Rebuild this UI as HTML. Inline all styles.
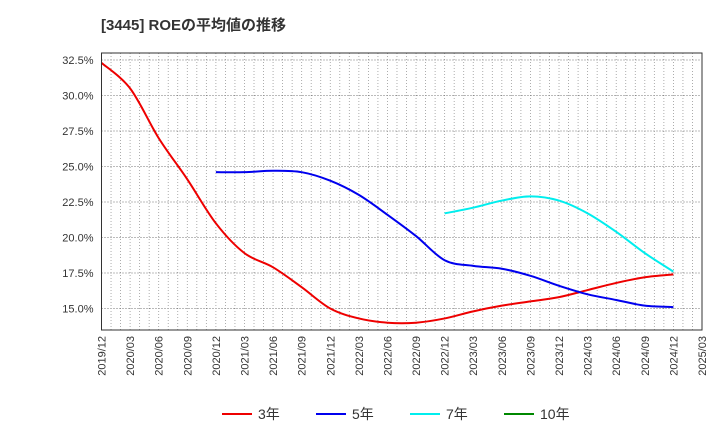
<!DOCTYPE html>
<html><head><meta charset="utf-8"><style>
body{margin:0;background:#fff;font-family:"Liberation Sans","Noto Sans CJK JP",sans-serif}
</style></head><body>
<svg id="c" width="720" height="440" xmlns="http://www.w3.org/2000/svg">
<text x="101" y="30" font-size="15" font-weight="bold" fill="#333">[3445]  ROEの平均値の推移</text>
<g id="grid"></g><g id="lines"></g><g id="axes"></g><g id="legend"></g>
</svg>
<script>
const xLabels=["2019/12","2020/03","2020/06","2020/09","2020/12","2021/03","2021/06","2021/09","2021/12","2022/03","2022/06","2022/09","2022/12","2023/03","2023/06","2023/09","2023/12","2024/03","2024/06","2024/09","2024/12","2025/03"];
const yTicks=[15.0,17.5,20.0,22.5,25.0,27.5,30.0,32.5];
const s3=[32.3,30.5,27.0,24.1,21.0,18.9,17.9,16.5,15.0,14.3,14.0,14.0,14.3,14.8,15.2,15.5,15.8,16.3,16.8,17.2,17.4];
const s3off=0;
const s5=[24.6,24.6,24.7,24.6,24.0,23.0,21.6,20.1,18.4,18.0,17.8,17.3,16.6,16.0,15.6,15.2,15.1];
const s5off=4;
const s7=[21.7,22.1,22.6,22.9,22.6,21.7,20.4,18.9,17.6];
const s7off=12;
const s10=[];
const L=101.5,R=702,T=53,B=330;
const X=i=>L+i*(R-L)/21;
const Y=v=>308.5-(v-15)*(308.5-60)/17.5;
const NS="http://www.w3.org/2000/svg";
function mk(p,t,a){const e=document.createElementNS(NS,t);for(const k in a)e.setAttribute(k,a[k]);p.appendChild(e);return e;}
const g=document.getElementById('grid'),ax=document.getElementById('axes'),ln=document.getElementById('lines'),lg=document.getElementById('legend');
for(let m=1;m<63;m++){const x=L+m*(R-L)/63;const e=mk(g,'line',{x1:x,x2:x,y1:T,y2:B,stroke:'#999','stroke-dasharray':'1,2','stroke-width':0.8});
}
yTicks.forEach(v=>{const y=Y(v);const e=mk(g,'line',{x1:L,x2:R,y1:y,y2:y,stroke:'#777','stroke-dasharray':'1,2','stroke-width':0.9});

const t=mk(ax,'text',{x:L-8,y:y+4,'text-anchor':'end','font-size':11,fill:'#333'});t.textContent=v.toFixed(1)+'%';
});
xLabels.forEach((l,i)=>{const x=X(i);const t=mk(ax,'text',{x:0,y:0,'font-size':11,fill:'#333','text-anchor':'end',transform:`translate(${x+4},${B+6}) rotate(-90)`});t.textContent=l;
});
const fr=mk(ax,'rect',{x:L,y:T,width:R-L,height:B-T,fill:'none',stroke:'#333','stroke-width':1});

function path(arr,off){const p=arr.map((v,i)=>[X(i+off),Y(v)]);if(!p.length)return'';let d=`M${p[0][0]},${p[0][1]}`;
for(let i=0;i<p.length-1;i++){const p0=p[i-1]||p[i],p1=p[i],p2=p[i+1],p3=p[i+2]||p2;
d+=`C${p1[0]+(p2[0]-p0[0])/6},${p1[1]+(p2[1]-p0[1])/6} ${p2[0]-(p3[0]-p1[0])/6},${p2[1]-(p3[1]-p1[1])/6} ${p2[0]},${p2[1]}`;}return d;}
[[s3,s3off,'#ee0000','line-3yr'],[s5,s5off,'#0000ee','line-5yr'],[s7,s7off,'#00eeee','line-7yr'],[s10,0,'#008800','line-10yr']].forEach(s=>{
if(!s[0].length)return;const e=mk(ln,'path',{d:path(s[0],s[1]),fill:'none',stroke:s[2],'stroke-width':2});
});
[['3年','#ee0000',222],['5年','#0000ee',316],['7年','#00eeee',410],['10年','#008800',504]].forEach(l=>{
const grp=mk(lg,'g',{});
mk(grp,'line',{x1:l[2],x2:l[2]+30,y1:414,y2:414,stroke:l[1],'stroke-width':2});
const t=mk(grp,'text',{x:l[2]+36,y:419,'font-size':14,fill:'#333'});t.textContent=l[0];});
</script>
</body></html>
